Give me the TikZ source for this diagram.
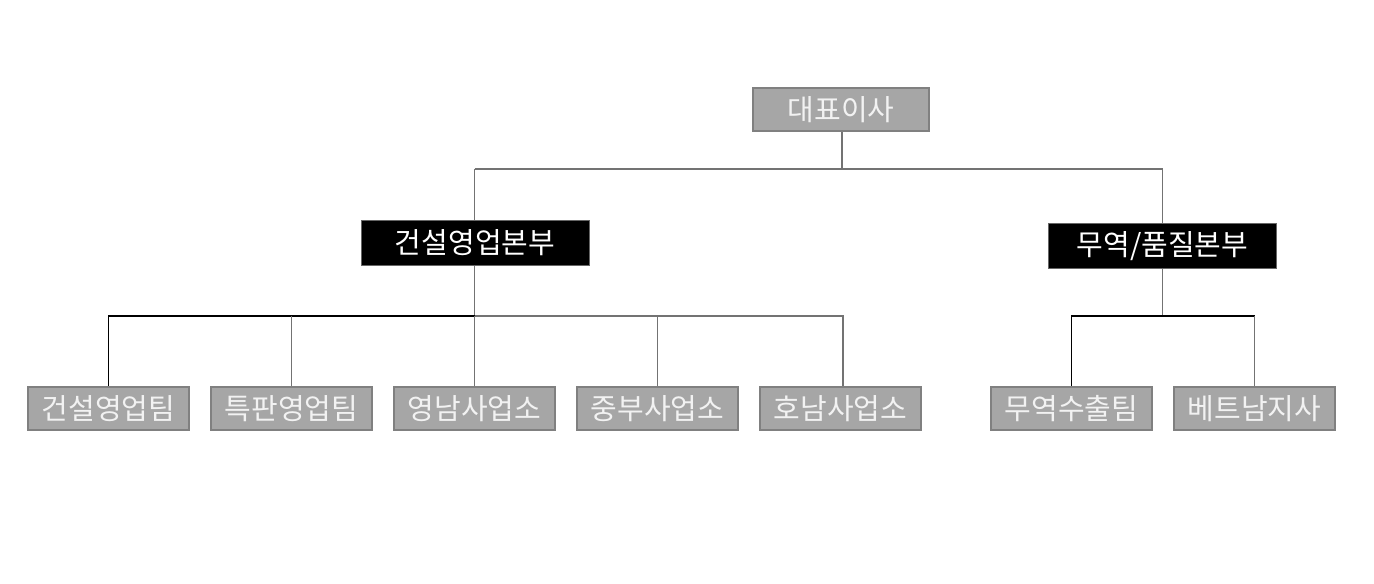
\documentclass[tikz,border=0pt]{standalone}
\usepackage{fontspec}
\newfontfamily\kr{Noto Sans CJK KR}
\begin{document}
\begin{tikzpicture}[x=0.5pt, y=-0.5pt,
    nodes={font=\kr\fontsize{14.5}{16}\selectfont, inner sep=0pt, minimum height=21.5pt},
    team/.style={draw=black!50, fill=black!35, text=white!95!black, minimum width=80.5pt, line width=0.6pt},
    head/.style={draw=black!60, fill=black, text=white, minimum width=114pt, minimum height=22.5pt},
    link/.style={draw=black!55, line width=0.6pt},
    dark/.style={draw=black, line width=0.6pt}]
    \useasboundingbox (0,0) rectangle (1374,583);
    % Structure lines first
    \coordinate (ceotop) at (842,131);
    \coordinate (bus0) at (842,169);
    \coordinate (hqa) at (474.5,169);
    \coordinate (hqb) at (1162.5,169);
    \coordinate (bus1) at (474.5,316);
    \coordinate (bus2) at (1162.5,316);
    \draw[link] (ceotop) -- (bus0);
    \draw[link] (hqa) -- (hqb);
    \draw[link] (hqa) -- (bus1);
    \draw[link] (hqb) -- (bus2);
    % Boxes
    \node[team, minimum width=88pt] (ceo) at (841,109.5) {대표이사};
    \node[head] (hq1) at (475,242.5) {건설영업본부};
    \node[head] (hq2) at (1162.5,246) {무역/품질본부};
    \node[team] (t1) at (108.5,408.5) {건설영업팀};
    \node[team] (t2) at (291.5,408.5) {특판영업팀};
    \node[team] (t3) at (474.5,408.5) {영남사업소};
    \node[team] (t4) at (657.5,408.5) {중부사업소};
    \node[team] (t5) at (840.5,408.5) {호남사업소};
    \node[team] (t6) at (1071.5,408.5) {무역수출팀};
    \node[team] (t7) at (1254.5,408.5) {베트남지사};
    % Branches to teams
    \draw[dark] (bus1) -| (t1.north);
    \draw[link] (bus1) -| ([xshift=1.25pt]t5.north);
    \draw[link] (t2.north) -- (t2.north |- bus1);
    \draw[link] (t3.north) -- (bus1);
    \draw[link] (t4.north) -- (t4.north |- bus1);
    \draw[dark] (bus2) -| (t6.north);
    \draw[dark] (bus2) -- (t7.north |- bus2);
    \draw[link] (t7.north |- bus2) -- (t7.north);
\end{tikzpicture}
\end{document}
